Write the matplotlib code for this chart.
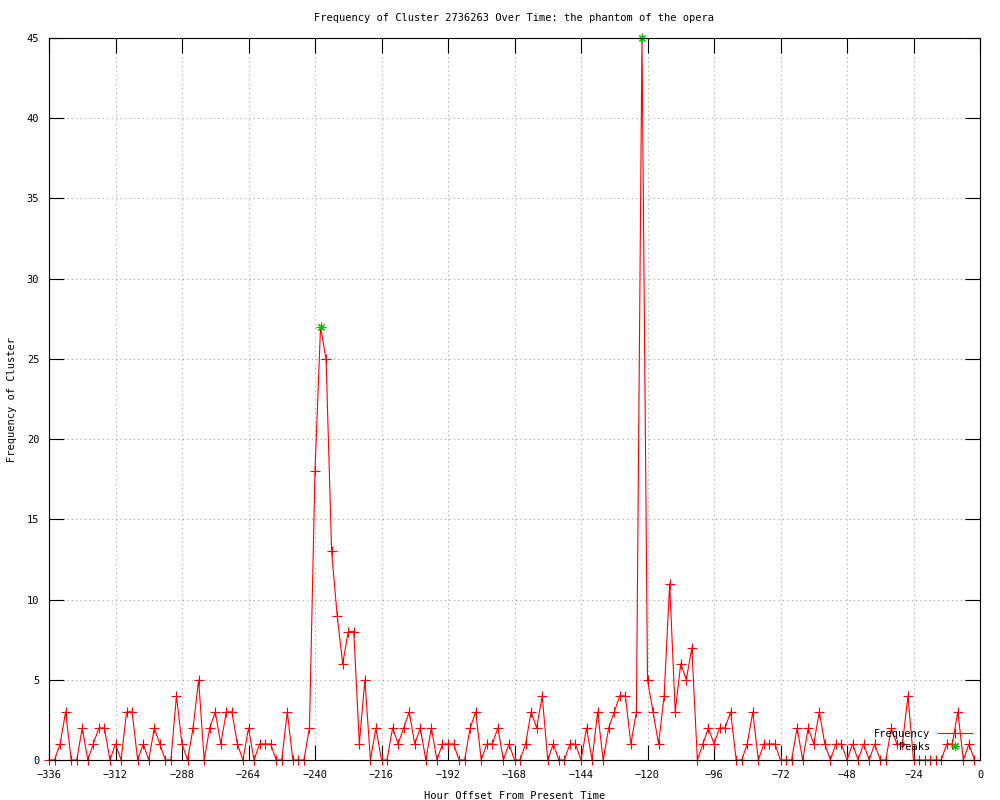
import matplotlib
matplotlib.use("Agg")
import matplotlib.pyplot as plt

plt.rcParams['font.family'] = ['DejaVu Sans Mono']

# hour offsets, one bin every 2 hours
hours = list(range(-336, 0, 2))

# cluster frequency per bin
freq = [
    0, 0, 1, 3, 0, 0, 2, 0, 1, 2,
    2, 0, 1, 0, 3, 3, 0, 1, 0, 2,
    1, 0, 0, 4, 1, 0, 2, 5, 0, 2,
    3, 1, 3, 3, 1, 0, 2, 0, 1, 1,
    1, 0, 0, 3, 0, 0, 0, 2, 18, 27,
    25, 13, 9, 6, 8, 8, 1, 5, 0, 2,
    0, 0, 2, 1, 2, 3, 1, 2, 0, 2,
    0, 1, 1, 1, 0, 0, 2, 3, 0, 1,
    1, 2, 0, 1, 0, 0, 1, 3, 2, 4,
    0, 1, 0, 0, 1, 1, 0, 2, 0, 3,
    0, 2, 3, 4, 4, 1, 3, 45, 5, 3,
    1, 4, 11, 3, 6, 5, 7, 0, 1, 2,
    1, 2, 2, 3, 0, 0, 1, 3, 0, 1,
    1, 1, 0, 0, 0, 2, 0, 2, 1, 3,
    1, 0, 1, 1, 0, 1, 0, 1, 0, 1,
    0, 0, 2, 1, 1, 4, 0, 0, 0, 0,
    0, 0, 1, 1, 3, 0, 1, 0,
]

peak_hours = [-238, -122]
peak_freq = [27, 45]

xticks = list(range(-336, 1, 24))
yticks = list(range(0, 46, 5))

fig = plt.figure(figsize=(10, 8), dpi=100)
ax = fig.add_axes([0.049, 0.05, 0.931, 0.9025])

ax.plot(hours, freq, color='red', linewidth=0.8, marker='+',
        markersize=7, markeredgewidth=0.8, label='Frequency', zorder=3,
        clip_on=False)
# monospace font, so pad the label to right-justify it like gnuplot
ax.plot(peak_hours, peak_freq, linestyle='none', color='#00c000',
        marker=(8, 2, 0), markersize=6, markeredgewidth=0.8,
        label='    Peaks', zorder=4, clip_on=False)

ax.set_xlim(-336, 0)
ax.set_ylim(0, 45)
ax.set_xticks(xticks)
ax.set_yticks(yticks)
ax.tick_params(direction='in', length=11, width=0.8, top=True, right=True,
               labelsize=7.5, pad=7)
ax.grid(True, color='#a0a0a0', linestyle=(0, (1, 3)), linewidth=0.8)
for sp in ax.spines.values():
    sp.set_linewidth(0.8)
    sp.set_zorder(5)

ax.set_title('Frequency of Cluster 2736263 Over Time: the phantom of the opera',
             fontsize=7.5, pad=12)
ax.set_xlabel('Hour Offset From Present Time', fontsize=7.5, labelpad=8)
ax.set_ylabel('Frequency of Cluster', fontsize=7.5, labelpad=7)

leg = ax.legend(loc='lower right', bbox_to_anchor=(0.977, 0.054),
                bbox_transform=fig.transFigure, frameon=False,
                markerfirst=False, fontsize=7.5, handlelength=3.2,
                handletextpad=0.8, labelspacing=0.25, borderpad=0)

fig.savefig('out.png', dpi=100)
